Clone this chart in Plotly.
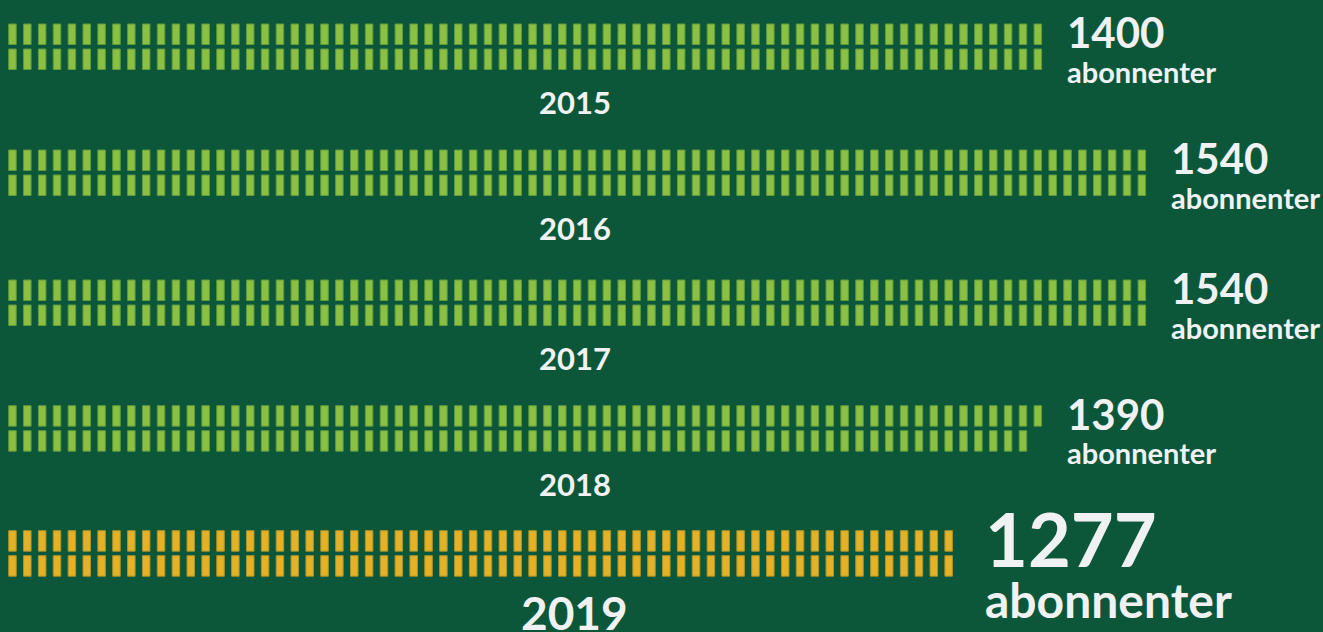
import plotly.graph_objects as go

# data
years = ["2015", "2016", "2017", "2018", "2019"]
subscribers = [1400, 1540, 1540, 1390, 1277]
per_mark = 10  # one little bar = 10 subscribers
unit_label = "abonnenter"

# colours
BG = "#0c5739"
GREEN = "#8bc043"
GREEN_EDGE = "#5f9a3c"
YELLOW = "#e5b127"
YELLOW_EDGE = "#a8952c"
TEXT = "#f0f1f2"

# layout helpers (y in pixels from the top, x in "mark columns")
row_top = [24, 150, 280, 405.7, 530.7]
mark_h = 20.5
row_gap = 25

fig = go.Figure()

for i, (year, value) in enumerate(zip(years, subscribers)):
    n_marks = round(value / per_mark)
    top_n = (n_marks + 1) // 2
    bottom_n = n_marks // 2
    latest = i == len(years) - 1
    fill = YELLOW if latest else GREEN
    edge = YELLOW_EDGE if latest else GREEN_EDGE

    for n, offset in [(top_n, 0), (bottom_n, row_gap)]:
        fig.add_trace(
            go.Bar(
                x=list(range(n)),
                y=[mark_h] * n,
                base=row_top[i] + offset,
                width=0.505,
                marker=dict(color=fill, line=dict(color=edge, width=1)),
                hoverinfo="skip",
                showlegend=False,
            )
        )

    # value label right of the bars
    gap = 1.8 if latest else 1.3
    fig.add_annotation(
        x=top_n - 0.5 + gap,
        y=row_top[i] + 8,
        text=f"{value}",
        xanchor="left",
        yanchor="middle",
        showarrow=False,
        font=dict(family="Lato", size=74 if latest else 42, color=TEXT, weight="bold"),
    )
    fig.add_annotation(
        x=top_n - 0.5 + gap,
        y=row_top[i] + (69 if latest else 47),
        text=unit_label,
        xanchor="left",
        yanchor="middle",
        showarrow=False,
        font=dict(family="Lato", size=48 if latest else 29, color=TEXT, weight="bold"),
    )

    # year label under the bars
    fig.add_annotation(
        x=37.85,
        y=row_top[i] + (82 if latest else 78),
        text=year,
        xanchor="center",
        yanchor="middle",
        showarrow=False,
        font=dict(family="Lato", size=46 if latest else 31, color=TEXT, weight="bold"),
    )

fig.update_layout(
    width=1323,
    height=632,
    margin=dict(l=0, r=0, t=0, b=0),
    paper_bgcolor=BG,
    plot_bgcolor=BG,
    barmode="overlay",
    xaxis=dict(range=[-0.838, 88.19], visible=False, fixedrange=True),
    yaxis=dict(range=[632, 0], visible=False, fixedrange=True),
)

# drop the browser's default page margin so the figure fills the window
fig.write_html(
    "out.html",
    config=dict(displayModeBar=False),
    post_script="document.body.style.margin='0';document.body.style.overflow='hidden';",
)
